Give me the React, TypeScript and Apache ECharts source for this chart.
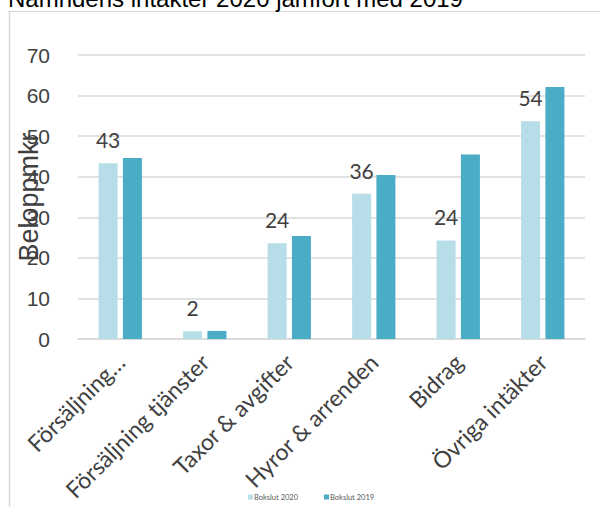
import React, { useEffect, useRef } from "react";
import * as echarts from "echarts";

const titleText = "Nämndens intäkter 2020 jämfört med 2019";
const yAxisName = "Beloppmkr";
const categories = [
  "Försäljning…",
  "Försäljning tjänster",
  "Taxor & avgifter",
  "Hyror & arrenden",
  "Bidrag",
  "Övriga intäkter",
];
const seriesNames = ["Bokslut 2020", "Bokslut 2019"];
const bokslut2020 = [43.3, 1.9, 23.6, 35.8, 24.3, 53.7];
const bokslut2019 = [44.6, 2.0, 25.4, 40.4, 45.5, 62.1];
const yMin = 0;
const yMax = 70;
const yInterval = 10;

export default function App() {
  const ref = useRef<HTMLDivElement>(null);
  useEffect(() => {
    if (!ref.current) return;
    const chart = echarts.init(ref.current, undefined, { renderer: "svg" });
    chart.setOption({
      animation: false,
      backgroundColor: "#ffffff",
      title: {
        text: titleText,
        left: 8,
        top: -14,
        padding: 0,
        textStyle: {
          fontFamily: "Liberation Sans",
          fontSize: 24,
          fontWeight: "normal",
          color: "#000000",
        },
      },
      graphic: [
        {
          type: "line",
          shape: { x1: 8, y1: 11.5, x2: 600, y2: 11.5 },
          style: { stroke: "#d9d9d9", lineWidth: 1 },
          silent: true,
        },
        {
          type: "line",
          shape: { x1: 9.5, y1: 11, x2: 9.5, y2: 507 },
          style: { stroke: "#d9d9d9", lineWidth: 1.5 },
          silent: true,
        },
      ],
      legend: {
        data: seriesNames,
        left: 248,
        top: 493,
        padding: 0,
        itemWidth: 5,
        itemHeight: 5,
        itemGap: 26,
        icon: "rect",
        textStyle: {
          fontFamily: "Lato",
          fontSize: 7.5,
          color: "#595959",
          padding: [0, 0, 0, -4],
        },
      },
      grid: {
        left: 78,
        right: 15,
        top: 55,
        bottom: 168,
        containLabel: false,
        outerBoundsMode: "none",
      },
      xAxis: {
        type: "category",
        data: categories,
        axisLine: { lineStyle: { color: "#d9d9d9", width: 1.5 } },
        axisTick: { show: false },
        axisLabel: {
          interval: 0,
          rotate: 45,
          margin: 19,
          fontFamily: "Lato",
          fontSize: 23,
          color: "#404040",
        },
      },
      yAxis: {
        type: "value",
        min: yMin,
        max: yMax,
        interval: yInterval,
        name: yAxisName,
        nameLocation: "middle",
        nameRotate: 90,
        nameGap: 36,
        nameMoveOverlap: false,
        nameTextStyle: {
          fontFamily: "Liberation Sans",
          fontSize: 27,
          color: "#404040",
        },
        axisLine: { show: false },
        axisTick: { show: false },
        splitLine: { lineStyle: { color: "#d9d9d9", width: 1.5 } },
        axisLabel: {
          margin: 28,
          fontFamily: "Liberation Sans",
          fontSize: 21,
          color: "#404040",
        },
      },
      series: [
        {
          name: seriesNames[0],
          type: "bar",
          data: bokslut2020,
          barWidth: 19,
          barGap: "28%",
          itemStyle: { color: "#b7dde8" },
          label: {
            show: true,
            position: "top",
            distance: 13,
            fontFamily: "Lato",
            fontSize: 21,
            color: "#404040",
            formatter: (p: any) => String(Math.round(p.value)),
          },
        },
        {
          name: seriesNames[1],
          type: "bar",
          data: bokslut2019,
          barWidth: 19,
          itemStyle: { color: "#4bacc6" },
        },
      ],
    });
    return () => chart.dispose();
  }, []);
  return (
    <div
      ref={ref}
      style={{ position: "fixed", left: 0, top: 0, width: 600, height: 507 }}
    />
  );
}
